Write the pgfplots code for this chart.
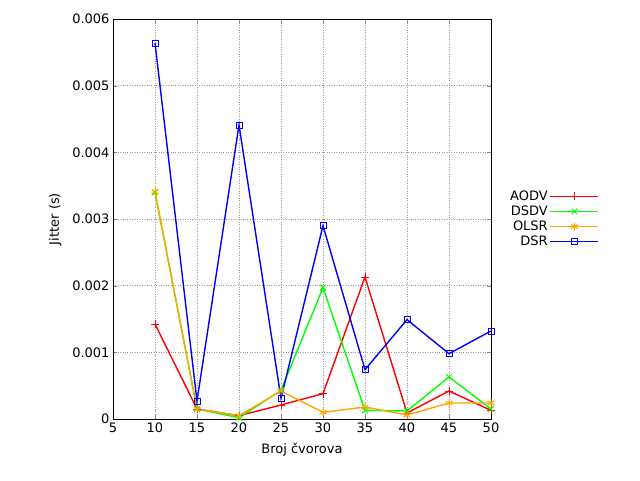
\documentclass[border=0pt]{standalone}
\usepackage{pgfplots}
\pgfplotsset{compat=1.18}
\usepackage{fontspec}
\setmainfont{DejaVu Sans}
\definecolor{gred}{HTML}{FF0000}
\definecolor{ggreen}{HTML}{00FF00}
\definecolor{gorange}{HTML}{FFA500}
\definecolor{gblue}{HTML}{0000FF}
\begin{document}
\begin{tikzpicture}
\path (0,0) rectangle (640pt,480pt);
\begin{axis}[
  at={(113pt,61pt)}, anchor=south west,
  scale only axis, width=378pt, height=400pt,
  font=\fontsize{13}{15}\selectfont,
  xmin=5, xmax=50, ymin=0, ymax=0.006,
  xtick={5,10,...,50},
  ytick={0,0.001,0.002,0.003,0.004,0.005,0.006},
  yticklabels={0,0.001,0.002,0.003,0.004,0.005,0.006},
  scaled y ticks=false,
  /pgf/number format/assume math mode=true,
  tick align=inside, tick pos=both,
  grid=major, grid style={dotted, gray!80},
  xlabel={Broj čvorova}, ylabel={Jitter (s)},
  xlabel style={yshift=-4pt}, ylabel style={yshift=4pt},
  legend style={at={(1.037,0.5)}, anchor=west, draw=none, fill=none,
    legend cell align=right, font=\fontsize{13}{19}\selectfont,
    /tikz/every even column/.append style={column sep=6pt}},
  legend image code/.code={\draw[#1] (0pt,0pt) -- (48pt,0pt); \draw[#1, only marks] plot coordinates {(24pt,0pt)};},
  legend plot pos=right,
  every axis plot/.append style={line width=1.4pt, mark options={solid, line width=1pt}},
]
\addplot[color=gred, mark=+, mark size=4pt] coordinates {
(10,0.001425) (15,0.00015) (20,0.00005) (25,0.00021) (30,0.00038) (35,0.00213) (40,0.00009) (45,0.00042) (50,0.00013)};
\addlegendentry{AODV}
\addplot[color=ggreen, mark=x, mark size=4pt] coordinates {
(10,0.0034) (15,0.00015) (20,0.00002) (25,0.00043) (30,0.00197) (35,0.00013) (40,0.00012) (45,0.00063) (50,0.00015)};
\addlegendentry{DSDV}
\addplot[color=gorange, mark=asterisk, mark size=4pt] coordinates {
(10,0.00341) (15,0.00015) (20,0.00005) (25,0.00042) (30,0.0001) (35,0.00018) (40,0.00006) (45,0.00024) (50,0.00024)};
\addlegendentry{OLSR}
\addplot[color=gblue, mark=square, mark size=3pt] coordinates {
(10,0.00564) (15,0.00027) (20,0.00441) (25,0.00031) (30,0.0029) (35,0.00074) (40,0.00149) (45,0.00098) (50,0.00132)};
\addlegendentry{DSR}
\end{axis}
\end{tikzpicture}
\end{document}
